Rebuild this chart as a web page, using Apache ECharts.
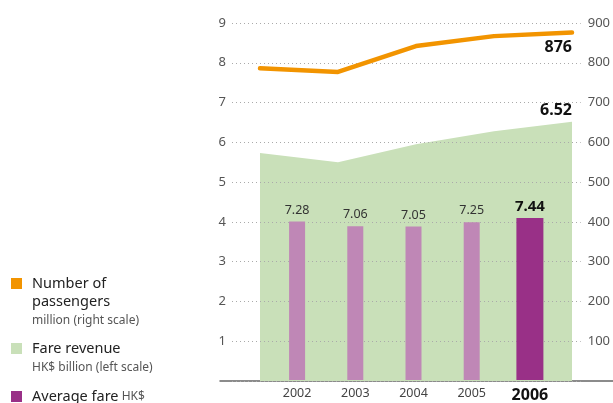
<!DOCTYPE html>
<html>
<head>
<meta charset="utf-8">
<script src="https://cdn.jsdelivr.net/npm/echarts@6/dist/echarts.min.js"></script>
<style>
    html, body { margin: 0; padding: 0; background: #fff; }
    #chart { width: 613px; height: 403px; }
</style>
</head>
<body>
<div id="chart"></div>
<script>
    // data
    const years = ['2002', '2003', '2004', '2005', '2006'];
    const passengers = [786, 777, 842, 867, 876];      // million, right scale
    const fareRevenue = [5.73, 5.50, 5.95, 6.28, 6.52]; // HK$ billion, left scale
    const averageFare = [7.28, 7.06, 7.05, 7.25, 7.44]; // HK$
    const highlightIndex = 4;

    const FONT = 'Noto Sans';
    const ORANGE = '#f29400';
    const GREEN = '#c9e0b9';
    const PURPLE_LIGHT = '#bf87b6';
    const PURPLE = '#993087';

    let chart = echarts.init(document.getElementById('chart'));

    const gridTop = 23, gridBottom = 22;

    chart.setOption({
        animation: false,
        textStyle: { fontFamily: FONT },
        grid: [
            // scales + dotted lines
            { left: 232, right: 30, top: gridTop, bottom: gridBottom },
            // area + line
            { left: 260, right: 41, top: gridTop, bottom: gridBottom },
            // bars
            { left: 268, width: 291, top: gridTop, bottom: gridBottom },
            // baseline
            { left: 220, right: 0, top: gridTop, bottom: gridBottom }
        ],
        legend: [
            {
                left: 11, top: 276, padding: 0, icon: 'rect', itemWidth: 11, itemHeight: 11,
                selectedMode: false,
                data: [{ name: 'Number of passengers', itemStyle: { color: ORANGE } }],
                formatter: () => 'Number of',
                textStyle: { fontSize: 14.5, color: '#222', lineHeight: 14, padding: [0, 0, 0, 5] }
            },
            {
                left: 11, top: 341, padding: 0, icon: 'rect', itemWidth: 11, itemHeight: 11,
                selectedMode: false,
                data: [{ name: 'Fare revenue', itemStyle: { color: GREEN } }],
                textStyle: { fontSize: 14.5, color: '#222', lineHeight: 14, padding: [0, 0, 0, 5] }
            },
            {
                left: 11, top: 389, padding: 0, icon: 'rect', itemWidth: 11, itemHeight: 11,
                selectedMode: false,
                data: [{ name: 'Average fare', itemStyle: { color: PURPLE } }],
                formatter: () => '{a|Average fare} {b|HK$}',
                textStyle: {
                    lineHeight: 14, padding: [0, 0, 0, 5],
                    rich: {
                        a: { fontSize: 14.5, color: '#222', fontFamily: FONT },
                        b: { fontSize: 12, color: '#555', fontFamily: FONT }
                    }
                }
            }
        ],
        graphic: [
            { type: 'text', x: 32, y: 302, style: { text: 'passengers', fontSize: 14.5, fontFamily: FONT, fill: '#222', verticalAlign: 'middle' } },
            { type: 'text', x: 32, y: 321, style: { text: 'million (right scale)', fontSize: 12, fontFamily: FONT, fill: '#555', verticalAlign: 'middle' } },
            { type: 'text', x: 32, y: 368, style: { text: 'HK$ billion (left scale)', fontSize: 12, fontFamily: FONT, fill: '#555', verticalAlign: 'middle' } }
        ],
        xAxis: [
            { gridIndex: 0, type: 'category', data: years, show: false },
            { gridIndex: 1, type: 'category', data: years, boundaryGap: false, show: false },
            {
                gridIndex: 2, type: 'category', data: years,
                axisLine: { show: false }, axisTick: { show: false },
                axisLabel: {
                    interval: 0, margin: 7,
                    formatter: (v, i) => i === highlightIndex ? '{b|' + v + '}' : '{a|' + v + '}',
                    rich: {
                        a: { fontSize: 12.5, color: '#444', fontFamily: FONT },
                        b: { fontSize: 16, fontWeight: 'bold', color: '#111', fontFamily: FONT }
                    }
                }
            },
            { gridIndex: 2, type: 'category', data: years, position: 'top', show: false },
            {
                gridIndex: 3, type: 'category', data: years,
                axisLine: { show: true, lineStyle: { color: '#666', width: 1.5 } },
                axisTick: { show: false }, axisLabel: { show: false }
            }
        ],
        yAxis: [
            {
                gridIndex: 0, type: 'value', position: 'left', min: 0, max: 9, interval: 1, z: 1.5,
                axisLine: { show: false }, axisTick: { show: false },
                axisLabel: { showMinLabel: false, margin: 6, fontSize: 13, color: '#555' },
                splitLine: { lineStyle: { type: [1, 3], color: '#aaa', width: 1 } }
            },
            {
                gridIndex: 0, type: 'value', position: 'right', min: 0, max: 900, interval: 100,
                axisLine: { show: false }, axisTick: { show: false },
                axisLabel: { showMinLabel: false, margin: 7, fontSize: 13, color: '#555' },
                splitLine: { show: false }
            },
            { gridIndex: 1, type: 'value', min: 0, max: 9, show: false },
            { gridIndex: 1, type: 'value', min: 0, max: 900, show: false, position: 'right' },
            { gridIndex: 2, type: 'value', min: 0, max: 16.4, show: false },
            { gridIndex: 3, type: 'value', show: false }
        ],
        series: [
            {
                name: 'Fare revenue',
                type: 'line',
                xAxisIndex: 1, yAxisIndex: 2,
                z: 1,
                data: fareRevenue,
                symbol: 'none',
                lineStyle: { width: 0 },
                areaStyle: { color: GREEN, opacity: 1 },
                itemStyle: { color: GREEN },
                endLabel: {
                    show: true, distance: 0, align: 'right', verticalAlign: 'bottom', offset: [0, -3],
                    formatter: p => p.value.toFixed(2),
                    fontSize: 16, fontWeight: 'bold', color: '#111', fontFamily: FONT
                }
            },
            {
                name: 'Average fare',
                type: 'bar',
                xAxisIndex: 2, yAxisIndex: 4,
                barWidth: 16,
                data: averageFare.map((v, i) => i === highlightIndex ? '-' : v),
                itemStyle: { color: PURPLE_LIGHT },
                label: {
                    show: true, position: 'top', distance: 5,
                    formatter: p => p.value.toFixed(2),
                    fontSize: 12.5, color: '#333', fontFamily: FONT
                }
            },
            {
                name: 'Average fare',
                type: 'bar',
                xAxisIndex: 3, yAxisIndex: 4,
                barWidth: 27,
                data: averageFare.map((v, i) => i === highlightIndex ? v : '-'),
                itemStyle: { color: PURPLE },
                label: {
                    show: true, position: 'top', distance: 4,
                    formatter: p => p.value.toFixed(2),
                    fontSize: 15, fontWeight: 'bold', color: '#111', fontFamily: FONT
                }
            },
            {
                name: 'Number of passengers',
                type: 'line',
                xAxisIndex: 1, yAxisIndex: 3,
                z: 3,
                data: passengers,
                symbol: 'none',
                lineStyle: { color: ORANGE, width: 4.5, cap: 'round', join: 'round' },
                itemStyle: { color: ORANGE },
                endLabel: {
                    show: true, distance: 0, align: 'right', verticalAlign: 'top', offset: [0, 7],
                    formatter: p => String(p.value),
                    fontSize: 16, fontWeight: 'bold', color: '#111', fontFamily: FONT
                }
            }
        ]
    });
</script>
</body>
</html>
